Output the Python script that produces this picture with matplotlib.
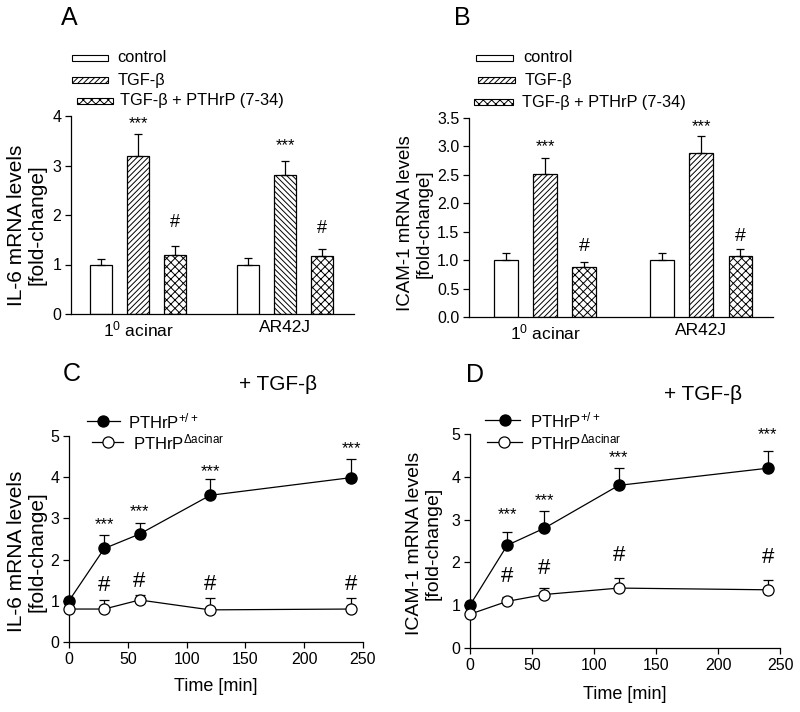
import numpy as np
import matplotlib
matplotlib.use("Agg")
import matplotlib.pyplot as plt
from matplotlib.lines import Line2D
from matplotlib.patches import Rectangle

plt.rcParams['font.family'] = ['Liberation Sans', 'DejaVu Sans']
plt.rcParams['mathtext.fontset'] = 'custom'
plt.rcParams['mathtext.rm'] = 'Liberation Sans'
plt.rcParams['mathtext.it'] = 'Liberation Sans'
plt.rcParams['mathtext.bf'] = 'Liberation Sans'
plt.rcParams['hatch.linewidth'] = 0.7
plt.rcParams['axes.linewidth'] = 0.9

# ---------------- data ----------------
groups = ['1$^{0}$ acinar', 'AR42J']
bar_series = ['control', 'TGF-β', 'TGF-β + PTHrP (7-34)']

il6_ctrl = [1.0, 1.0]
il6_ctrl_err = [0.12, 0.14]
il6_tgf = [3.2, 2.8]
il6_tgf_err = [0.44, 0.30]
il6_combo = [1.2, 1.18]
il6_combo_err = [0.17, 0.13]

icam_ctrl = [1.0, 1.0]
icam_ctrl_err = [0.12, 0.12]
icam_tgf = [2.52, 2.88]
icam_tgf_err = [0.27, 0.31]
icam_combo = [0.88, 1.08]
icam_combo_err = [0.09, 0.11]

time_min = [0, 30, 60, 120, 240]
il6_wt = [1.0, 2.27, 2.62, 3.56, 3.99]
il6_wt_err = [0.0, 0.33, 0.28, 0.39, 0.46]
il6_ko = [0.8, 0.8, 1.02, 0.78, 0.8]
il6_ko_err = [0.0, 0.22, 0.12, 0.28, 0.26]

icam_wt = [1.0, 2.4, 2.8, 3.8, 4.2]
icam_wt_err = [0.0, 0.31, 0.41, 0.41, 0.40]
icam_ko = [0.79, 1.09, 1.25, 1.4, 1.36]
icam_ko_err = [0.0, 0.11, 0.15, 0.24, 0.24]

W, H = 800, 712
fig = plt.figure(figsize=(8, 7.12), dpi=100)


def fx(x):
    return x / W


def fy(y):
    return 1 - y / H


def ax_px(l, r, t, b):
    return fig.add_axes([fx(l), fy(b), (r - l) / W, (b - t) / H])


def style(ax):
    ax.spines['top'].set_visible(False)
    ax.spines['right'].set_visible(False)
    ax.tick_params(direction='out', length=4, width=0.9, labelsize=11.5, pad=3)


def mark(ax, x, y, s, dy_px, size):
    ax.annotate(s, (x, y), xytext=(0, dy_px * 72 / 100), textcoords='offset points',
                ha='center', va='center', fontsize=size)


def bar_panel(ax, ctrl, ctrl_e, tgf, tgf_e, combo, combo_e, tgf_hatch, ylim, yticks,
              ylabel, ylabel_size, xlim, star_dy, hash_dy, hash_size):
    x = np.arange(len(groups))
    w = 0.15
    off = 0.25
    ek = dict(ecolor='black', elinewidth=0.9, capsize=3.2, capthick=0.9)
    z = [0] * len(x)
    ax.bar(x - off, ctrl, w, color='white', edgecolor='black', linewidth=0.9,
           yerr=[z, ctrl_e], error_kw=ek, zorder=2)
    for i in range(len(x)):
        ax.bar(x[i], tgf[i], w, color='white', edgecolor='black', linewidth=0.9,
               hatch=tgf_hatch[i], yerr=[[0], [tgf_e[i]]], error_kw=ek, zorder=2)
    ax.bar(x + off, combo, w, color='white', edgecolor='black', linewidth=0.9,
           hatch='xxxx', yerr=[z, combo_e], error_kw=ek, zorder=2)
    for i in range(len(x)):
        mark(ax, x[i], tgf[i] + tgf_e[i], '***', star_dy[i], 12)
        mark(ax, x[i] + off, combo[i] + combo_e[i], '#', hash_dy[i], hash_size)
    ax.set_xlim(*xlim)
    ax.set_ylim(*ylim)
    ax.set_yticks(yticks)
    ax.set_xticks(x)
    ax.set_xticklabels(groups, fontsize=12.5)
    ax.tick_params(axis='x', length=0, pad=4)
    ax.set_ylabel(ylabel, fontsize=ylabel_size, linespacing=1.1, va='center')


def line_panel(ax, wt, wt_e, ko, ko_e, ylabel, ylabel_size, star_dy, hash_dy, hash_size):
    ek = dict(ecolor='black', elinewidth=0.9, capsize=3.5, capthick=0.9)
    z = [0] * len(time_min)
    ax.errorbar(time_min, wt, yerr=[z, wt_e], fmt='-o', color='black', mfc='black',
                mec='black', ms=8, lw=0.9, clip_on=False, zorder=3, **ek)
    ax.errorbar(time_min, ko, yerr=[z, ko_e], fmt='-o', color='black', mfc='white',
                mec='black', ms=8, lw=0.9, mew=0.9, clip_on=False, zorder=4, **ek)
    for i in range(1, len(time_min)):
        mark(ax, time_min[i], wt[i] + wt_e[i], '***', star_dy[i], 12)
        mark(ax, time_min[i], ko[i] + ko_e[i], '#', hash_dy[i], hash_size)
    ax.set_xlim(0, 250)
    ax.set_ylim(0, 5)
    ax.set_xticks([0, 50, 100, 150, 200, 250])
    ax.set_yticks([0, 1, 2, 3, 4, 5])
    ax.set_xlabel('Time [min]', fontsize=13, va='center')
    ax.set_ylabel(ylabel, fontsize=ylabel_size, linespacing=1.1, va='center')


# ---------------- Panel A ----------------
axA = ax_px(71, 354, 116, 314)
style(axA)
bar_panel(axA, il6_ctrl, il6_ctrl_err, il6_tgf, il6_tgf_err, il6_combo, il6_combo_err,
          ['//////', '\\\\\\\\\\\\'], (0, 4), [0, 1, 2, 3, 4],
          'IL-6 mRNA levels\n[fold-change]', 15, (-0.456, 1.469),
          [10, 15], [24, 21], 13)
axA.yaxis.set_label_coords(-0.155, 0.45)

# ---------------- Panel B ----------------
axB = ax_px(469, 773, 118, 317)
style(axB)
bar_panel(axB, icam_ctrl, icam_ctrl_err, icam_tgf, icam_tgf_err, icam_combo, icam_combo_err,
          ['//////', '//////'], (0, 3.5), np.arange(0, 3.51, 0.5),
          'ICAM-1 mRNA levels\n[fold-change]', 13.5, (-0.487, 1.46),
          [12, 9], [15, 13], 14)
axB.set_yticklabels([f'{v:.1f}' for v in np.arange(0, 3.51, 0.5)])
axB.yaxis.set_label_coords(-0.178, 0.47)

# ---------------- Panel C ----------------
axC = ax_px(69, 363, 436, 642)
style(axC)
line_panel(axC, il6_wt, il6_wt_err, il6_ko, il6_ko_err,
           'IL-6 mRNA levels\n[fold-change]', 15, [0, 10, 11, 8, 10], [0, 14, 14, 14, 14], 16)
axC.yaxis.set_label_coords(-0.143, 0.44)
axC.xaxis.set_label_coords(0.5, -0.218)

# ---------------- Panel D ----------------
axD = ax_px(470, 780, 434, 648)
style(axD)
line_panel(axD, icam_wt, icam_wt_err, icam_ko, icam_ko_err,
           'ICAM-1 mRNA levels\n[fold-change]', 14, [0, 17, 10, 10, 16], [0, 20, 20, 22, 22], 16)
axD.yaxis.set_label_coords(-0.148, 0.49)
axD.xaxis.set_label_coords(0.5, -0.217)

# ---------------- bar legends ----------------
def bar_legend(entries):
    for (x0, x1, yc, hatch, tx, label) in entries:
        r = Rectangle((fx(x0), fy(yc + 2.5)), (x1 - x0) / W, 5 / H, transform=fig.transFigure,
                      facecolor='white', edgecolor='black', linewidth=0.8, hatch=hatch)
        fig.add_artist(r)
        fig.text(fx(tx), fy(yc), label, fontsize=11.8, va='center', ha='left')


bar_legend([(72, 108, 58, '', 117, bar_series[0]),
            (72, 108, 80, '//////', 118, bar_series[1]),
            (77, 113, 101, 'xxxx', 120, bar_series[2])])
bar_legend([(476, 513, 58, '', 523, bar_series[0]),
            (478, 515, 80, '//////', 525, bar_series[1]),
            (474, 513, 102, 'xxxx', 522, bar_series[2])])

# ---------------- line legends ----------------
def line_legend(entries):
    for (x0, x1, xm, yc, fill, tx, label) in entries:
        fig.add_artist(Line2D([fx(x0), fx(x1)], [fy(yc), fy(yc)], transform=fig.transFigure,
                              color='black', lw=0.9))
        fig.add_artist(Line2D([fx(xm)], [fy(yc)], transform=fig.transFigure, marker='o',
                              ms=8, mfc=fill, mec='black', mew=0.9, color='black'))
        fig.text(fx(tx), fy(yc), label, fontsize=12, va='center', ha='left')


line_legend([(87, 120, 103, 421, 'black', 128, 'PTHrP$^{+/+}$'),
             (92, 123, 108, 442, 'white', 133, 'PTHrP$^{\\Delta acinar}$')])
line_legend([(485, 520, 505, 420, 'black', 530, 'PTHrP$^{+/+}$'),
             (487, 522, 504, 442, 'white', 530, 'PTHrP$^{\\Delta acinar}$')])

# ---------------- panel letters / titles ----------------
for (x, y, s) in [(69, 18, 'A'), (462, 18, 'B'), (72, 374, 'C'), (475, 375, 'D')]:
    fig.text(fx(x), fy(y), s, fontsize=18, ha='center', va='center')
fig.text(fx(278), fy(385), '+ TGF-β', fontsize=15, ha='center', va='center')
fig.text(fx(703), fy(395), '+ TGF-β', fontsize=15, ha='center', va='center')

fig.savefig('out.png', dpi=100)
